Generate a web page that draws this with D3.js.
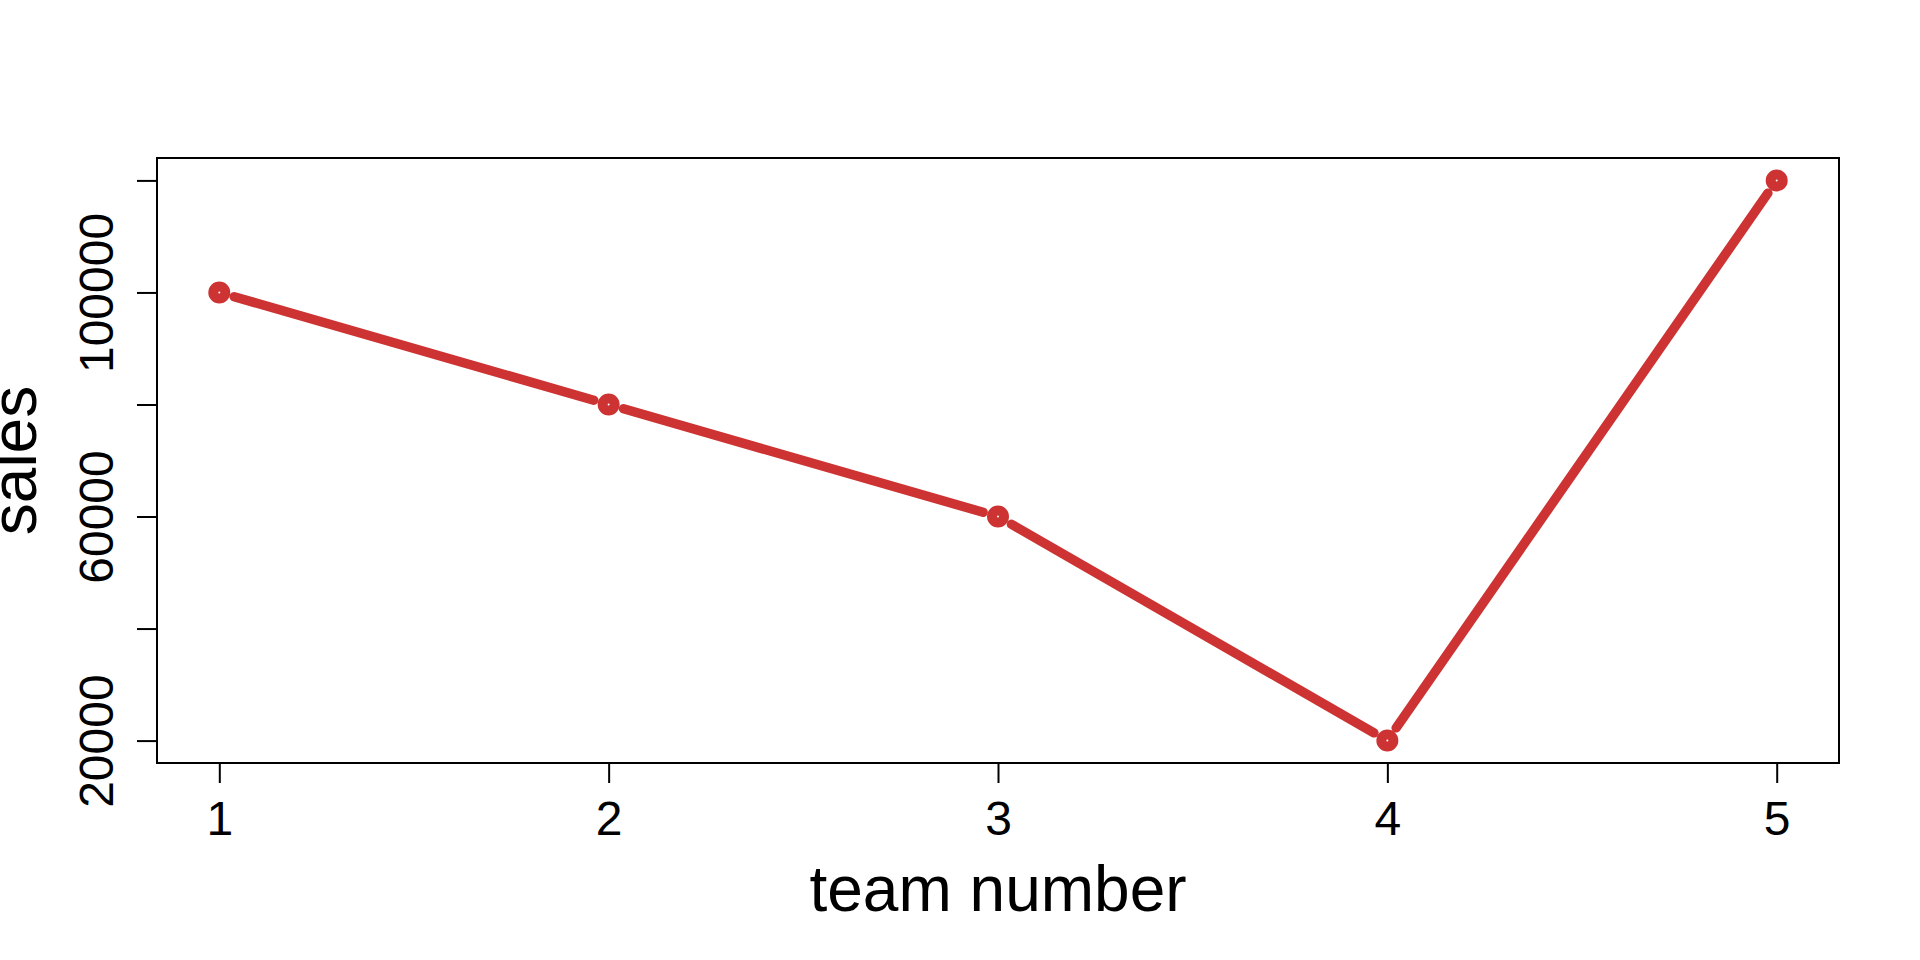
<!DOCTYPE html>
<html>
<head>
<meta charset="utf-8">
<script src="https://cdn.jsdelivr.net/npm/d3@7"></script>
<style>
    body { margin: 0; background: #fff; }
    svg { display: block; font-family: "Liberation Sans", Arial, sans-serif; }
    .tick line { stroke: #000; stroke-width: 2; }
    .tick text { font-size: 48px; fill: #000; }
    .axis-label { font-size: 64px; fill: #000; }
</style>
</head>
<body>
<svg width="1920" height="960"></svg>
<script>
// chart values
const teams = [1, 2, 3, 4, 5];
const sales = [100000, 80000, 60000, 20000, 120000];
const xTicks = [1, 2, 3, 4, 5];
const yTicks = [20000, 40000, 60000, 80000, 100000, 120000];
const yTickLabels = [20000, 60000, 100000];   // R drops the labels that would overlap

const lineColor = '#cd3333';

const render = () => {
    const chartData = initializeChart();
    const { margin, innerWidth, innerHeight, svg } = chartData;

    const scales = scale(innerWidth, innerHeight);
    const { xScale, yScale } = scales;

    const g = svg.append('g')
        .attr('transform', `translate(${margin.left},${margin.top})`);

    addingAxes(xScale, yScale, innerWidth, innerHeight, g);
    addingLine(xScale, yScale, g);

    // plot frame
    g.append('rect')
        .attr('width', innerWidth)
        .attr('height', innerHeight)
        .attr('fill', 'none')
        .attr('stroke', '#000')
        .attr('stroke-width', 2);
};

//Initialize some data for our chart
const initializeChart = () => {
    const svg = d3.select('svg');
    const width = +svg.attr('width');
    const height = +svg.attr('height');
    const margin = { top: 158, right: 81, bottom: 197, left: 157 };
    const innerWidth = width - margin.left - margin.right;
    const innerHeight = height - margin.top - margin.bottom;

    return { margin, innerWidth, innerHeight, svg }
}

//R style scales: data range padded by 4% on each side
const scale = (innerWidth, innerHeight) => {
    const pad = ext => {
        const d = (ext[1] - ext[0]) * 0.04;
        return [ext[0] - d, ext[1] + d];
    };

    const xScale = d3.scaleLinear()
        .domain(pad(d3.extent(teams)))
        .range([0, innerWidth]);

    const yScale = d3.scaleLinear()
        .domain(pad(d3.extent(sales)))
        .range([innerHeight, 0]);

    return { xScale, yScale }
}

//Adding the X and Y axes and their labels
const addingAxes = (xScale, yScale, innerWidth, innerHeight, g) => {
    const xAxis = d3.axisBottom(xScale)
        .tickValues(xTicks)
        .tickFormat(d3.format('d'))
        .tickSize(20)
        .tickSizeOuter(0)
        .tickPadding(34);

    const yAxis = d3.axisLeft(yScale)
        .tickValues(yTicks)
        .tickFormat(d => yTickLabels.includes(d) ? d : '')
        .tickSize(20)
        .tickSizeOuter(0);

    const xAxisG = g.append('g').call(xAxis)
        .attr('transform', `translate(0,${innerHeight})`);
    xAxisG.select('.domain').remove();
    xAxisG.selectAll('.tick text')
        .attr('dy', null)
        .attr('y', 72);

    const yAxisG = g.append('g').call(yAxis);
    yAxisG.select('.domain').remove();
    yAxisG.selectAll('.tick text')
        .attr('x', null)
        .attr('dy', null)
        .attr('text-anchor', 'middle')
        .attr('transform', 'translate(-44.5,0) rotate(-90)');

    g.append('text')
        .attr('class', 'axis-label')
        .attr('x', innerWidth / 2)
        .attr('y', innerHeight + 148)
        .attr('text-anchor', 'middle')
        .text('team number');

    g.append('text')
        .attr('class', 'axis-label')
        .attr('transform', `translate(-121,${innerHeight / 2}) rotate(-90)`)
        .attr('text-anchor', 'middle')
        .text('sales');
}

//type = "b": points joined by segments that stop short of each point
const addingLine = (xScale, yScale, g) => {
    const gap = 15.5;
    const points = teams.map((t, i) => ({ x: xScale(t), y: yScale(sales[i]) }));
    const segments = d3.pairs(points).map(([a, b]) => {
        const len = Math.hypot(b.x - a.x, b.y - a.y);
        const ux = (b.x - a.x) / len;
        const uy = (b.y - a.y) / len;
        return {
            x1: a.x + ux * gap, y1: a.y + uy * gap,
            x2: b.x - ux * gap, y2: b.y - uy * gap
        };
    });

    g.selectAll('.segment').data(segments)
        .enter().append('line').attr('class', 'segment')
        .attr('x1', d => d.x1)
        .attr('y1', d => d.y1)
        .attr('x2', d => d.x2)
        .attr('y2', d => d.y2)
        .attr('stroke', lineColor)
        .attr('stroke-width', 9.5)
        .attr('stroke-linecap', 'round');

    g.selectAll('.point').data(points)
        .enter().append('circle').attr('class', 'point')
        .attr('cx', d => d.x)
        .attr('cy', d => d.y)
        .attr('r', 6)
        .attr('fill', 'none')
        .attr('stroke', lineColor)
        .attr('stroke-width', 10);
}

render();
</script>
</body>
</html>
